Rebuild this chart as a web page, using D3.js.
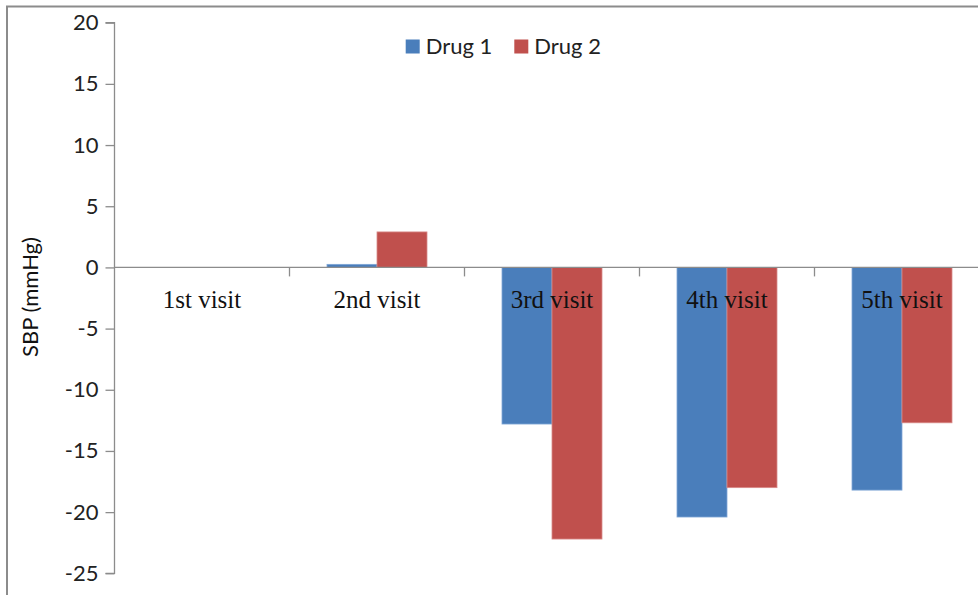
<!DOCTYPE html>
<html>
<head>
<meta charset="utf-8">
<script src="https://cdn.jsdelivr.net/npm/d3@7"></script>
<style>
  html, body { margin: 0; padding: 0; background: #fff; }
  svg { display: block; }
</style>
</head>
<body>
<script>
// Change in systolic blood pressure per visit, by drug
const visits = ["1st visit", "2nd visit", "3rd visit", "4th visit", "5th visit"];
const seriesNames = ["Drug 1", "Drug 2"];
const drug1 = [0, 0.25, -12.8, -20.4, -18.2];
const drug2 = [0, 2.9, -22.2, -18.0, -12.7];
const yTicks = [20, 15, 10, 5, 0, -5, -10, -15, -20, -25];
const colors = ["#4a7ebb", "#c0504d"];

const W = 978, H = 595;
const svg = d3.select("body").append("svg").attr("width", W).attr("height", H);

// outer chart frame (its right and bottom edges fall outside the view)
svg.append("rect")
  .attr("x", 7).attr("y", 6.5).attr("width", 1200).attr("height", 800)
  .attr("fill", "none").attr("stroke", "#8c8c8c").attr("stroke-width", 2);

const plot = { left: 114.5, right: 989.5, top: 22.7, bottom: 573.3 };

const x = d3.scaleBand().domain(visits).range([plot.left, plot.right])
  .paddingInner(0.4286).paddingOuter(0.2143);
const xSub = d3.scaleBand().domain(seriesNames).range([0, x.bandwidth()]);
const y = d3.scaleLinear().domain([-25, 20]).range([plot.bottom, plot.top]);

// bars
const rows = visits.map((v, i) => ({ visit: v, values: [drug1[i], drug2[i]] }));
const groups = svg.append("g").selectAll("g").data(rows).join("g")
  .attr("transform", d => `translate(${x(d.visit)},0)`);
groups.selectAll("rect")
  .data(d => d.values.map((val, k) => ({ name: seriesNames[k], val, k })))
  .join("rect")
  .attr("x", d => xSub(d.name))
  .attr("width", xSub.bandwidth())
  .attr("y", d => Math.min(y(d.val), y(0)))
  .attr("height", d => Math.abs(y(d.val) - y(0)))
  .attr("fill", d => colors[d.k])
  .attr("stroke", d => d.k === 0 ? "#7fa6d6" : "#d88a88")
  .attr("stroke-width", d => Math.abs(y(d.val) - y(0)) > 0.5 ? 0.8 : 0);

// y axis (plain hyphen for negatives)
const yAxis = svg.append("g")
  .attr("transform", `translate(${plot.left},0)`)
  .call(d3.axisLeft(y).tickValues(yTicks).tickSize(9).tickPadding(7).tickFormat(d => String(d)));
yAxis.select(".domain").attr("stroke", "#8c8c8c").attr("stroke-width", 1.3)
  .attr("d", `M-9,${y(20)}H0V${y(-25)}H-9`);
yAxis.selectAll(".tick line").attr("stroke", "#8c8c8c").attr("stroke-width", 1.3);
yAxis.selectAll(".tick text")
  .attr("fill", "#222").style("font-family", "Lato, 'Open Sans', sans-serif").style("font-size", "22px");

// category axis along zero
const xAxis = svg.append("g").attr("transform", `translate(0,${y(0)})`);
xAxis.append("line")
  .attr("x1", plot.left).attr("x2", plot.right)
  .attr("stroke", "#8c8c8c").attr("stroke-width", 1.3);
const boundaries = visits.map(v => x(v) - x.step() * x.paddingInner() / 2).slice(1);
xAxis.selectAll("line.tk").data(boundaries).join("line").attr("class", "tk")
  .attr("x1", d => d).attr("x2", d => d).attr("y1", 0).attr("y2", 9)
  .attr("stroke", "#8c8c8c").attr("stroke-width", 1.3);
xAxis.selectAll("text").data(visits).join("text")
  .attr("x", d => x(d) + x.bandwidth() / 2)
  .attr("y", 41)
  .attr("text-anchor", "middle")
  .attr("fill", "#111")
  .style("font-family", "'Liberation Serif', 'Times New Roman', serif")
  .style("font-size", "25px")
  .text(d => d);

// y axis title
svg.append("text")
  .attr("transform", `translate(38,297) rotate(-90)`)
  .attr("text-anchor", "middle")
  .attr("fill", "#111")
  .style("font-family", "Lato, 'Open Sans', sans-serif")
  .style("font-size", "22px")
  .text("SBP (mmHg)");

// legend
const legend = svg.append("g");
const legendX = [405.7, 514.3];
seriesNames.forEach((name, k) => {
  legend.append("rect")
    .attr("x", legendX[k]).attr("y", 39.5).attr("width", 14).attr("height", 14)
    .attr("fill", colors[k]);
  legend.append("text")
    .attr("x", legendX[k] + 20).attr("y", 54)
    .attr("fill", "#222")
    .style("font-family", "Lato, 'Open Sans', sans-serif")
    .style("font-size", "22px")
    .text(name);
});
</script>
</body>
</html>
